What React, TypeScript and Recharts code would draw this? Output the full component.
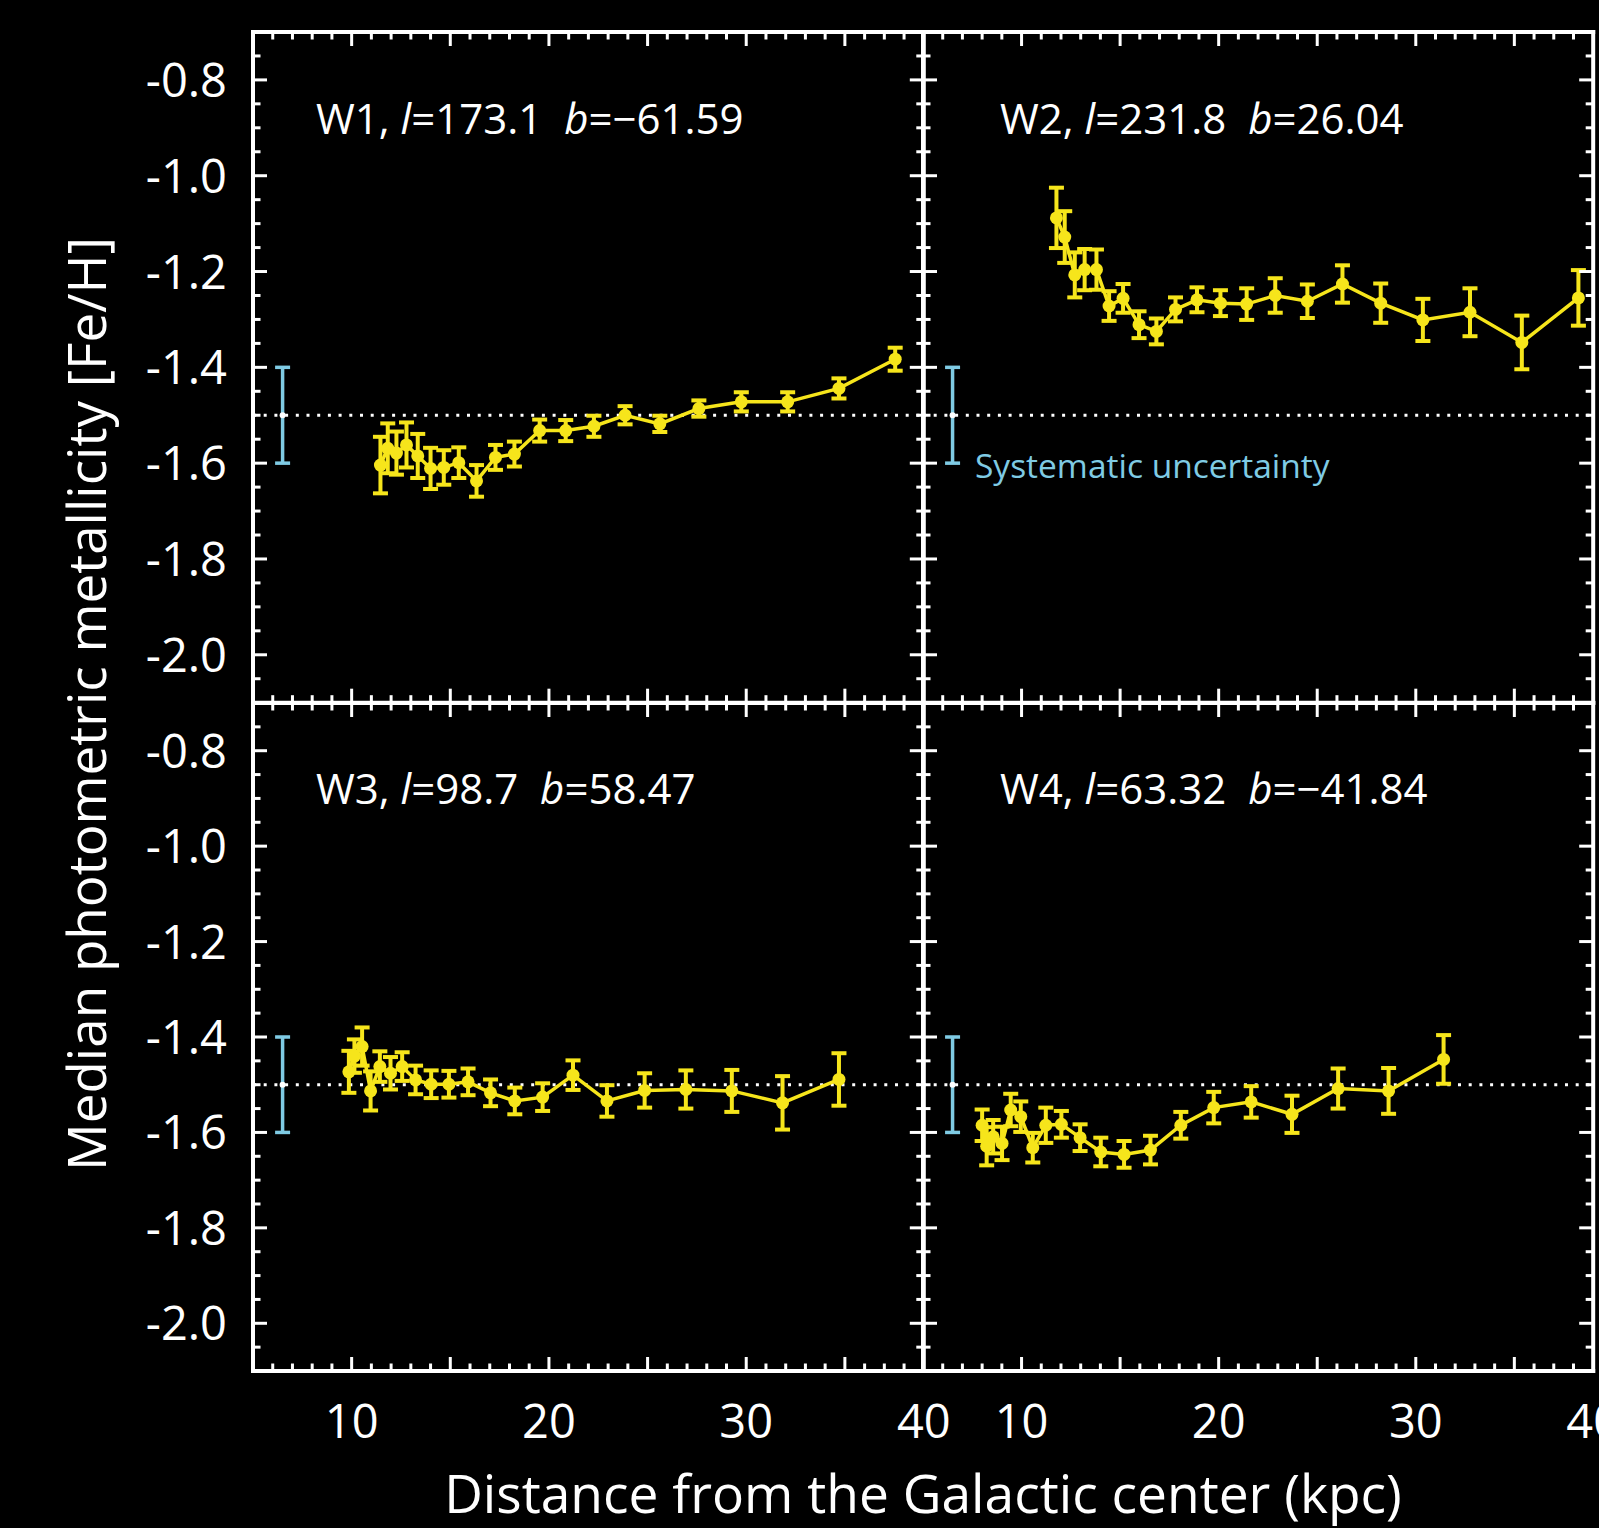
import React from 'react';
import { ComposedChart, Line, XAxis, YAxis, ErrorBar, ReferenceLine } from 'recharts';

const FONT = '"Open Sans", "Noto Sans", "DejaVu Sans", sans-serif';
const YELLOW = '#f6e51b';
const CYAN = '#7fcbe4';
const WHITE = '#ffffff';

// ---- data (distance kpc, median [Fe/H], error) ----
const w1Dist = [11.46, 11.83, 12.27, 12.78, 13.35, 14.0, 14.67, 15.43, 16.33, 17.29, 18.25, 19.53, 20.85, 22.28, 23.86, 25.62, 27.6, 29.75, 32.1, 34.7, 37.55];
const w1FeH = [-1.604, -1.569, -1.579, -1.562, -1.585, -1.611, -1.609, -1.599, -1.637, -1.588, -1.581, -1.532, -1.532, -1.523, -1.5, -1.518, -1.486, -1.472, -1.472, -1.444, -1.383];
const w1Err = [0.059, 0.052, 0.045, 0.047, 0.046, 0.043, 0.036, 0.032, 0.033, 0.026, 0.026, 0.023, 0.022, 0.022, 0.019, 0.017, 0.017, 0.02, 0.02, 0.021, 0.024];

const w2Dist = [11.77, 12.19, 12.7, 13.2, 13.8, 14.44, 15.15, 15.96, 16.84, 17.81, 18.9, 20.09, 21.42, 22.87, 24.5, 26.28, 28.22, 30.36, 32.75, 35.38, 38.25];
const w2FeH = [-1.088, -1.128, -1.207, -1.196, -1.196, -1.272, -1.256, -1.311, -1.325, -1.279, -1.259, -1.266, -1.268, -1.25, -1.262, -1.226, -1.266, -1.301, -1.285, -1.348, -1.255];
const w2Err = [0.063, 0.054, 0.047, 0.043, 0.042, 0.031, 0.03, 0.028, 0.027, 0.025, 0.026, 0.027, 0.033, 0.036, 0.035, 0.039, 0.041, 0.044, 0.05, 0.056, 0.058];

const w3Dist = [9.86, 10.14, 10.53, 10.96, 11.43, 11.97, 12.56, 13.24, 14.03, 14.93, 15.9, 17.04, 18.27, 19.68, 21.22, 22.94, 24.85, 26.94, 29.27, 31.84, 34.7];
const w3FeH = [-1.473, -1.44, -1.42, -1.513, -1.462, -1.476, -1.462, -1.49, -1.499, -1.499, -1.494, -1.517, -1.534, -1.526, -1.48, -1.534, -1.512, -1.51, -1.513, -1.538, -1.489];
const w3Err = [0.044, 0.035, 0.04, 0.041, 0.032, 0.034, 0.03, 0.03, 0.029, 0.028, 0.028, 0.028, 0.028, 0.029, 0.031, 0.033, 0.036, 0.04, 0.044, 0.056, 0.055];

const w4Dist = [8.0, 8.23, 8.56, 9.01, 9.45, 9.96, 10.57, 11.23, 12.02, 12.97, 14.02, 15.2, 16.54, 18.08, 19.75, 21.65, 23.72, 26.06, 28.62, 31.41];
const w4FeH = [-1.585, -1.629, -1.609, -1.623, -1.553, -1.567, -1.632, -1.585, -1.583, -1.611, -1.641, -1.646, -1.637, -1.585, -1.548, -1.536, -1.562, -1.508, -1.513, -1.447];
const w4Err = [0.033, 0.04, 0.035, 0.035, 0.034, 0.032, 0.031, 0.037, 0.028, 0.028, 0.03, 0.028, 0.03, 0.028, 0.033, 0.033, 0.039, 0.042, 0.048, 0.051];

// systematic uncertainty bar
const sysX = [6.5];
const sysFeH = [-1.5];
const sysErr = [0.1];
const referenceFeH = -1.5;

// ---- axes ----
const xDomain = [5, 39];
const yDomain = [-2.1, -0.7];
const xMajorTicks = [10, 15, 20, 25, 30, 35];
const xLabelPos = [10, 20, 30, 39];
const xLabels = ['10', '20', '30', '40'];
const yLabelPos = [-0.8, -1.0, -1.2, -1.4, -1.6, -1.8, -2.0];
const yLabels = ['-0.8', '-1.0', '-1.2', '-1.4', '-1.6', '-1.8', '-2.0'];

const seq = (a: number, b: number, step: number) => {
  const out: number[] = [];
  const n = Math.round((b - a) / step);
  for (let i = 0; i <= n; i++) out.push(Math.round((a + i * step) * 1000) / 1000);
  return out;
};
const xTicks = seq(6, 38, 1);
const yTicks = seq(-2.05, -0.75, 0.05);
const near = (a: number, b: number) => Math.abs(a - b) < 1e-6;
const isYMajor = (v: number) => yLabelPos.some((p) => near(p, v));

const rows = (d: number[], f: number[], e: number[]) => d.map((x, i) => ({ x, v: f[i], e: e[i] }));

// ---- geometry of the panels (pixels) ----
const PL = 252.5, PM = 923.3, PR = 1593.5;
const PT = 32.3, PMY = 703, PB = 1371;
const PAD = 140;
const AX = 1; // axis thickness reserved (must be > 0 for recharts to draw it)
const MAJ = 14, MIN = 7.5;

const makeXTick = (side: 'top' | 'bottom', showLabels: boolean) => (p: any) => {
  const v = p.payload.value;
  const major = xMajorTicks.includes(v);
  const len = major ? MAJ : MIN;
  const dir = side === 'bottom' ? -1 : 1;
  const li = xLabelPos.indexOf(v);
  return (
    <g>
      {v > 5 && v < 39 && (
        <line x1={p.x} x2={p.x} y1={p.y} y2={p.y + dir * len} stroke={WHITE} strokeWidth={3} />
      )}
      {showLabels && li >= 0 && (
        <text x={p.x} y={p.y + 67} textAnchor="middle" fill={WHITE} stroke="none" fontSize={47} fontFamily={FONT}>
          {xLabels[li]}
        </text>
      )}
    </g>
  );
};

const makeYTick = (side: 'left' | 'right', showLabels: boolean) => (p: any) => {
  const v = p.payload.value;
  const major = isYMajor(v);
  const len = major ? MAJ : MIN;
  const dir = side === 'left' ? 1 : -1;
  const li = yLabelPos.findIndex((q) => near(q, v));
  return (
    <g>
      <line x1={p.x} x2={p.x + dir * len} y1={p.y} y2={p.y} stroke={WHITE} strokeWidth={3} />
      {showLabels && li >= 0 && (
        <text x={p.x - 26} y={p.y + 17} textAnchor="end" fill={WHITE} stroke="none" fontSize={47} fontFamily={FONT}>
          {yLabels[li]}
        </text>
      )}
    </g>
  );
};

const axisLineStyle = { stroke: WHITE, strokeWidth: 4, strokeLinecap: 'square' as const };

function Panel(props: {
  x0: number; x1: number; y0: number; y1: number;
  data: { x: number; v: number; e: number }[];
  showXLabels: boolean; showYLabels: boolean;
}) {
  const { x0, x1, y0, y1, data, showXLabels, showYLabels } = props;
  const w = x1 - x0;
  const h = y1 - y0;
  const sys = rows(sysX, sysFeH, sysErr);
  const m = PAD - AX;
  return (
    <div style={{ position: 'absolute', left: x0 - PAD, top: y0 - PAD }}>
      <ComposedChart width={w + 2 * PAD} height={h + 2 * PAD} margin={{ top: m, right: m, bottom: m, left: m }}>
        <XAxis xAxisId={0} type="number" dataKey="x" domain={xDomain} allowDataOverflow orientation="bottom"
          height={AX} ticks={showXLabels ? [...xTicks, 39] : xTicks} interval={0} tickSize={0} tickMargin={0}
          tickLine={false} axisLine={axisLineStyle} tick={makeXTick('bottom', showXLabels)} />
        <XAxis xAxisId="top" type="number" dataKey="x" domain={xDomain} allowDataOverflow orientation="top"
          height={AX} ticks={xTicks} interval={0} tickSize={0} tickMargin={0}
          tickLine={false} axisLine={axisLineStyle} tick={makeXTick('top', false)} />
        <YAxis yAxisId={0} type="number" domain={yDomain} allowDataOverflow orientation="left"
          width={AX} ticks={yTicks} interval={0} tickSize={0} tickMargin={0}
          tickLine={false} axisLine={axisLineStyle} tick={makeYTick('left', showYLabels)} />
        <YAxis yAxisId="right" type="number" domain={yDomain} allowDataOverflow orientation="right"
          width={AX} ticks={yTicks} interval={0} tickSize={0} tickMargin={0}
          tickLine={false} axisLine={axisLineStyle} tick={makeYTick('right', false)} />
        <ReferenceLine y={referenceFeH} stroke={WHITE} strokeWidth={3} strokeDasharray="3 7.7" />
        <Line data={sys} dataKey="v" stroke="none" dot={false} isAnimationActive={false}>
          <ErrorBar dataKey="e" direction="y" width={7.5} stroke={CYAN} strokeWidth={3.5} isAnimationActive={false} />
        </Line>
        <Line data={data} dataKey="v" stroke={YELLOW} strokeWidth={3.5}
          dot={{ r: 6.5, fill: YELLOW, stroke: 'none' }} isAnimationActive={false}>
          <ErrorBar dataKey="e" direction="y" width={7.5} stroke={YELLOW} strokeWidth={4} isAnimationActive={false} />
        </Line>
      </ComposedChart>
    </div>
  );
}

const it = { fontStyle: 'italic' as const };

function PanelLabel(props: { x: number; y: number; name: string; l: string; b: string }) {
  const { x, y, name, l, b } = props;
  return (
    <text x={x} y={y} xmlSpace="preserve" style={{ whiteSpace: 'pre' }} fontFamily={FONT} fontSize={42} fill={WHITE}>
      {name + ', '}<tspan style={it}>l</tspan>{'=' + l + '  '}<tspan style={it}>b</tspan>{'=' + b}
    </text>
  );
}

export default function App() {
  return (
    <div style={{ position: 'absolute', left: 0, top: 0, width: 1599, height: 1528, background: '#000', overflow: 'hidden' }}>
      <Panel x0={PL} x1={PM} y0={PT} y1={PMY} data={rows(w1Dist, w1FeH, w1Err)} showXLabels={false} showYLabels={true} />
      <Panel x0={PM} x1={PR} y0={PT} y1={PMY} data={rows(w2Dist, w2FeH, w2Err)} showXLabels={false} showYLabels={false} />
      <Panel x0={PL} x1={PM} y0={PMY} y1={PB} data={rows(w3Dist, w3FeH, w3Err)} showXLabels={true} showYLabels={true} />
      <Panel x0={PM} x1={PR} y0={PMY} y1={PB} data={rows(w4Dist, w4FeH, w4Err)} showXLabels={true} showYLabels={false} />
      <svg width={1599} height={1528} style={{ position: 'absolute', left: 0, top: 0, pointerEvents: 'none' }}>
        <PanelLabel x={316} y={134} name="W1" l="173.1" b="−61.59" />
        <PanelLabel x={1000} y={134} name="W2" l="231.8" b="26.04" />
        <PanelLabel x={316} y={803.5} name="W3" l="98.7" b="58.47" />
        <PanelLabel x={1000} y={803.5} name="W4" l="63.32" b="−41.84" />
        <text x={975} y={477.5} fontFamily={FONT} fontSize={33.5} fill={CYAN}>Systematic uncertainty</text>
        <text x={923} y={1513} textAnchor="middle" fontFamily={FONT} fontSize={53.3} fill={WHITE}>
          Distance from the Galactic center (kpc)
        </text>
        <text x={106} y={704} transform="rotate(-90 106 704)" textAnchor="middle" fontFamily={FONT} fontSize={53} fill={WHITE}>
          Median photometric metallicity [Fe/H]
        </text>
      </svg>
    </div>
  );
}
